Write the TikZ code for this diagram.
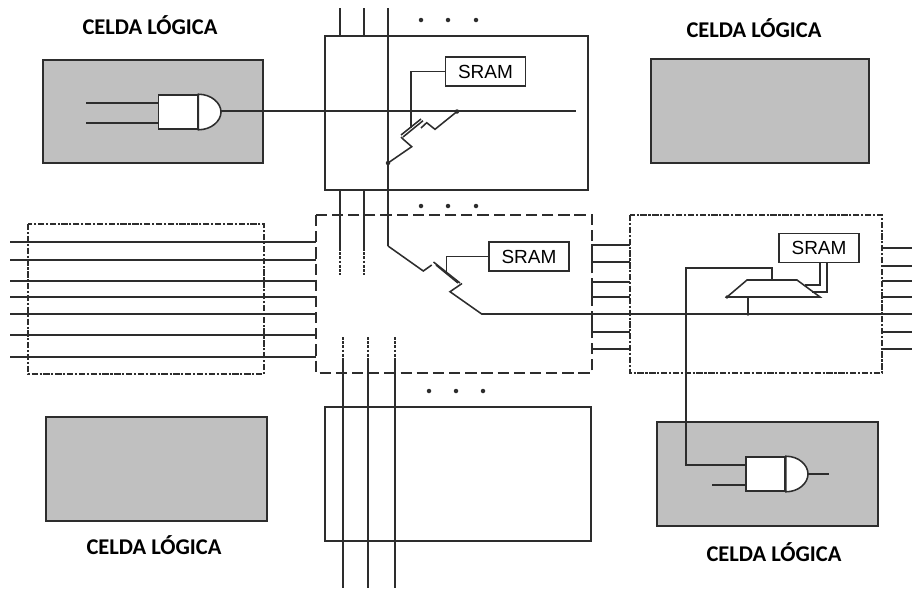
\documentclass[tikz,border=0pt]{standalone}
\usepackage{fontspec}
\setmainfont{Liberation Sans}
\newfontfamily\celdafont{Carlito}
\usetikzlibrary{positioning}
\definecolor{CellGray}{RGB}{192,192,192}
\definecolor{WireDark}{RGB}{45,45,45}
\newcommand{\gatecap}[2]{\draw[wire,fill=white] (#1.north east) .. controls +(13,0) and +(0,-9) .. (#2) .. controls +(0,9) and +(13,0) .. (#1.south east) -- cycle;}
\tikzset{
  wire/.style={WireDark,line width=1.1pt},
  cellbox/.style={WireDark,line width=1.3pt,fill=CellGray},
  plainbox/.style={WireDark,line width=1.1pt},
  dashbox/.style={WireDark,line width=1.3pt,dash pattern=on 8pt off 3.5pt},
  dotbox/.style={WireDark,line width=1.2pt,dash pattern=on 4.5pt off 1.2pt on 1.5pt off 1.2pt},
  dashwire/.style={WireDark,line width=1.1pt,dash pattern=on 2pt off 1pt},
  sram/.style={draw=WireDark,line width=1.2pt,fill=white,inner sep=0pt,minimum width=2cm,minimum height=.72cm,font=\fontsize{13.5}{15}\selectfont},
  gatebody/.style={draw=WireDark,line width=1.1pt,fill=white,inner sep=0pt,minimum width=.98cm,minimum height=.85cm},
  celda/.style={font=\celdafont\bfseries\fontsize{16}{18}\selectfont,inner sep=0pt}
}
\begin{document}
\begin{tikzpicture}[x=.025cm,y=-.025cm]
\useasboundingbox (0,0) rectangle (912,588);
\draw[cellbox] (43,60) rectangle (263,163);
\draw[cellbox] (651,59) rectangle (869,163);
\draw[cellbox] (46,417) rectangle (267,521);
\draw[cellbox] (657,422) rectangle (878,526);
\draw[plainbox] (325,36) rectangle (588,190);
\draw[plainbox] (325,407) rectangle (591,541);
\draw[dotbox] (28,224) rectangle (264,374);
\draw[dashbox] (316,215) rectangle (592,373);
\draw[dotbox] (630,215) rectangle (882,373);
\node[celda] (celdaA) at (150,25) {CELDA LÓGICA};
\node[celda] (celdaB) at (754,28) {CELDA LÓGICA};
\node[celda] (celdaC) at (154,545) {CELDA LÓGICA};
\node[celda] (celdaD) at (774,552) {CELDA LÓGICA};
\foreach \x/\y in {421/20,448/20,476/20,421/206,448/206,476/206,429/391,456/391,483/391}{\fill[WireDark] (\x,\y) circle (1.6pt);}
% vertical tracks
\foreach \x in {340,364}{
  \draw[wire] (\x,8) -- (\x,36);
  \draw[wire] (\x,190) -- (\x,248);
  \draw[dashwire] (\x,248) -- (\x,275);
}
\foreach \x in {343,368,395}{
  \draw[dashwire] (\x,337) -- (\x,360);
  \draw[wire] (\x,360) -- (\x,588);
}
% horizontal tracks
\foreach \y in {242,260,281,297,314,335,357}{\draw[wire] (10,\y) -- (316,\y);}
\foreach \y/\z in {245/262,282/297,314/332}{\draw[wire] (630,\y) -- (592,\y) -- (592,\z) -- (630,\z);}
\draw[wire] (592,349) -- (630,349);
\foreach \y in {248,266,281,297,332,349}{\draw[wire] (882,\y) -- (912,\y);}
% gates
\coordinate (tipA) at (221,112);
\coordinate (tipB) at (808,474);
\coordinate (inA) at (86,103);
\coordinate (inB) at (86,123);
\coordinate (inC) at (712,485);
\coordinate (outB) at (829,474);
\coordinate (endA) at (576,111);
\coordinate (endB) at (912,314);
\coordinate (bendA) at (686,268);
\node[gatebody] (gateA) at (178,112) {};
\node[gatebody] (gateB) at (765.5,474) {};
\gatecap{gateA}{tipA}
\gatecap{gateB}{tipB}
\draw[wire] (inA) -- (inA -| gateA.west);
\draw[wire] (inB) -- (inB -| gateA.west);
\draw[wire] (inC) -- (inC -| gateB.west);
\draw[wire] (tipA) -- (tipA |- endA) -- (endA);
\draw[wire] (tipB) -- (outB);
% switch in the upper box
\coordinate (swA) at (388,163);
\coordinate (swB) at (457,111.5);
\coordinate (swC) at (411,128);
\node[sram] (sramA) at (485.5,71.5) {SRAM};
\draw[wire] (388,8) -- (388,246);
\draw[wire] (sramA.west) -| (swC);
\draw[wire] (swA) -- (411.7,146.7) -- (403.3,139.3) -- (401,137);
\draw[wire] (403,137) -- (423,120.7);
\draw[wire] (401,135) -- (421,119);
\draw[wire] (421,128) -- (426.7,122.7) -- (435,129.3) -- (swB);
\fill[WireDark] (swA) circle (1.6pt) (swB) circle (1.6pt);
% switch in the middle box
\coordinate (swD) at (388,246);
\coordinate (swE) at (481.7,314);
\coordinate (swF) at (446.7,272);
\node[sram] (sramB) at (529,256.5) {SRAM};
\draw[wire] (sramB.west) -| (swF);
\draw[wire] (swD) -- (423.3,271) -- (431.7,265);
\draw[wire] (433.5,262) -- (460,283);
\draw[wire] (436,265) -- (458,283);
\draw[wire] (462,283.5) -- (450,291.7) -- (swE) -- (endB);
% mux in the right box
\node[sram] (sramC) at (819,248) {SRAM};
\coordinate (muxA) at (747,280);
\coordinate (muxB) at (797,280);
\coordinate (muxC) at (820,297);
\coordinate (muxD) at (727,297);
\draw[wire,fill=white] (muxA) -- (muxB) -- (muxC) -- (muxD) -- cycle;
\draw[wire] (gateB.west |- 0,465) -- (bendA |- 0,465) -- (bendA) -- (772,268) -- (772,280);
\draw[wire] (748,297) -- (748,314);
\draw[wire] (820,262) -- (820,285) -- (805,285);
\draw[wire] (827,262) -- (827,292) -- (812,292);
\fill[WireDark] (748,314) circle (1.3pt) (muxD) circle (1.3pt);
\end{tikzpicture}
\end{document}
